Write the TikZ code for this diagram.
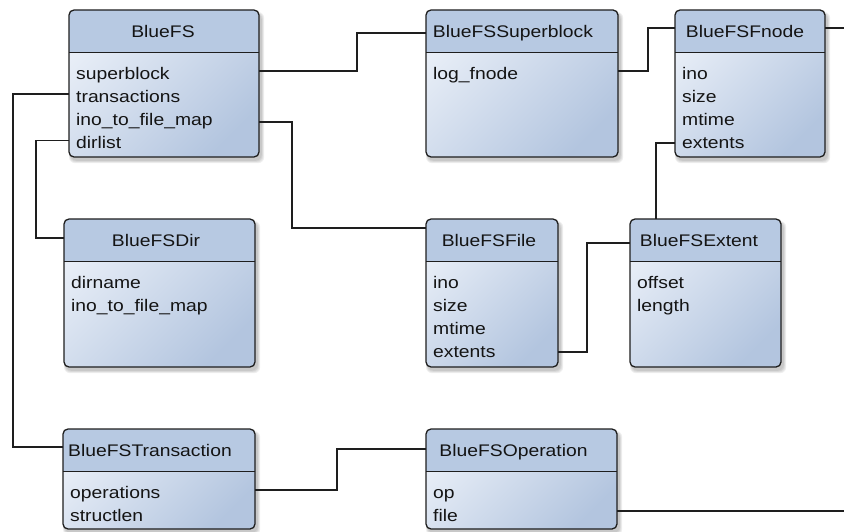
\documentclass[tikz,border=0pt]{standalone}
\usepackage{fontspec}
\setmainfont[FakeStretch=1.15]{Liberation Sans}
\usetikzlibrary{calc}

\definecolor{headfill}{HTML}{B7C9E2}
\definecolor{bodylight}{HTML}{E8EEF7}
\definecolor{bodydark}{HTML}{B3C5DF}
\definecolor{edge}{HTML}{1E1E1E}
\definecolor{ink}{HTML}{141414}

\tikzset{
  classbody/.style={draw=none, inner sep=0pt, outer sep=0pt, rounded corners=5pt,
    top color=bodylight, bottom color=bodydark, shading angle=45},
  classframe/.style={draw=edge, line width=1.3pt, rounded corners=5pt},
  divider/.style={draw=edge, line width=1.3pt},
  titletext/.style={inner sep=0pt, anchor=base, text=ink, font=\fontsize{16.8}{20}\selectfont},
  attrtext/.style={inner sep=0pt, anchor=base west, text=ink, font=\fontsize{16.8}{20}\selectfont},
  conn/.style={draw=edge, line width=1.4pt},
}

% \classbox{name}{left x}{top y}{width}{height}{title centre x}{title}{attributes}
\newcommand{\classbox}[8]{%
  % soft shadow below and right of the box
  \foreach \e in {4,3,2,1}{%
    \fill[black, opacity=0.06, rounded corners=6pt]
      (#2+2-\e*0.5,#3+4-\e*0.5) rectangle (#2+#4+2+\e*0.8,#3+#5+3+\e*0.8);
  }
  \node[classbody, minimum width=#4pt, minimum height=#5pt, anchor=north west] (#1) at (#2,#3) {};
  \begin{scope}
    \clip[rounded corners=5pt] (#1.north west) rectangle (#1.south east);
    \fill[headfill] (#1.north west) rectangle ($(#1.north east)+(0,42.5)$);
  \end{scope}
  \draw[divider] ($(#1.north west)+(0,42.5)$) -- ($(#1.north east)+(0,42.5)$);
  \draw[classframe] (#1.north west) rectangle (#1.south east);
  \node[titletext] (#1-t) at (#6,#3+27.5) {#7};
  \foreach \a [count=\i] in {#8}{%
    \node[attrtext] (#1-\i) at ($(#1.north west)+(7,69.5+23*\i-23)$) {\a};
  }
}

\begin{document}
\begin{tikzpicture}[x=1pt, y=-1pt]
\useasboundingbox (0,0) rectangle (844,532);

% free ends of the two links that leave the picture on the right
\coordinate (fnout) at (846,28);
\coordinate (opout) at (846,511);

% class boxes
\classbox{bfs}{69}{10}{190}{147}{163}{BlueFS}{superblock,transactions,ino\_to\_file\_map,dirlist}
\classbox{sb}{426}{10}{192}{147}{513}{BlueFSSuperblock}{log\_fnode}
\classbox{fn}{675}{10}{150}{147}{745}{BlueFSFnode}{ino,size,mtime,extents}
\classbox{dir}{64}{219}{191}{148}{156}{BlueFSDir}{dirname,ino\_to\_file\_map}
\classbox{file}{426}{219}{132}{148}{489}{BlueFSFile}{ino,size,mtime,extents}
\classbox{ext}{630}{219}{151}{148}{699}{BlueFSExtent}{offset,length}
\classbox{tr}{63}{429}{192}{100}{150}{BlueFSTransaction}{operations,structlen}
\classbox{op}{426}{429}{191}{100}{513.5}{BlueFSOperation}{op,file}

% links between the classes
\draw[conn] ($(bfs.north east)+(0,61)$) -- ++(98,0) |- ($(sb.north west)+(0,23)$);
\draw[conn] ($(bfs.north east)+(0,112)$) -- ++(33,0) |- ($(file.north west)+(0,9)$);
\draw[conn] ($(bfs.north west)+(0,130.5)$) -- ++(-33,0) |- ($(dir.north west)+(0,19)$);
\draw[conn] ($(bfs.north west)+(0,84)$) -- ++(-56,0) |- ($(tr.north west)+(0,18)$);
\draw[conn] ($(sb.north east)+(0,61)$) -- ++(30,0) |- ($(fn.north west)+(0,18)$);
\draw[conn] ($(fn.north east)+(0,18)$) -- (fnout);
\draw[conn] ($(fn.north west)+(0,133)$) -| ($(ext.north west)+(26,0)$);
\draw[conn] ($(file.north east)+(0,133)$) -- ++(29,0) |- ($(ext.north west)+(0,24)$);
\draw[conn] ($(tr.north east)+(0,61)$) -- ++(82,0) |- ($(op.north west)+(0,20)$);
\draw[conn] ($(op.north east)+(0,82)$) -- (opout);
\end{tikzpicture}
\end{document}
